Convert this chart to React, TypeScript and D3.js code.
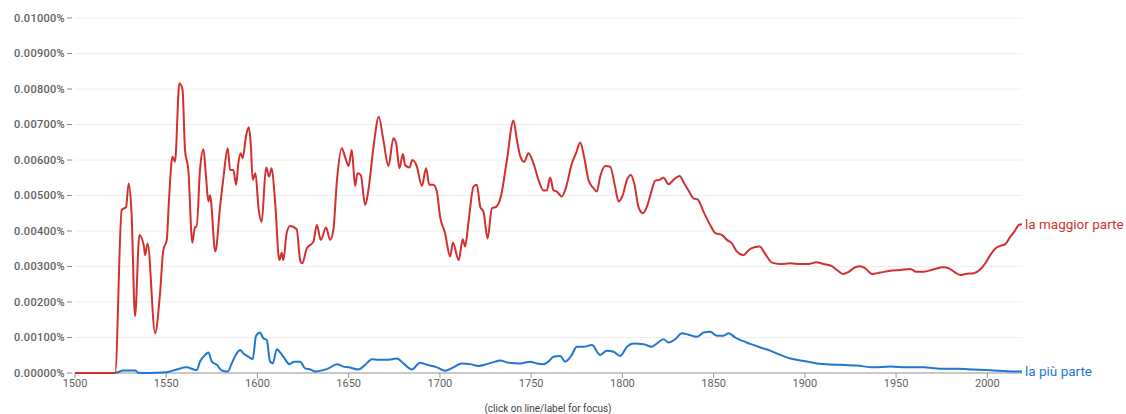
import React, { useEffect, useRef } from 'react';
import * as d3 from 'd3';

// values are in units of 0.001 %
const maggiorParte: [number, number][] = [
  [1500, 0], [1522, 0], [1525.6, 4.59], [1528, 4.68], [1529.4, 5.34], [1531, 4.5], [1532.9, 1.6],
  [1535.3, 3.89], [1537.8, 3.56], [1538.4, 3.32], [1539.8, 3.65], [1543.9, 1.12], [1546.6, 2.24],
  [1548.4, 3.46], [1550.3, 3.75], [1551.5, 4.87], [1553.4, 6.09], [1554.8, 5.95], [1557.2, 8.16],
  [1558.9, 7.99], [1560.3, 6.28], [1562.1, 5.72], [1564.3, 3.67], [1565.8, 4.12], [1566.7, 4.12],
  [1568.5, 5.72], [1570.4, 6.3], [1571.8, 5.53], [1573.1, 4.83], [1574, 5.01], [1576.9, 3.42],
  [1579.5, 4.68], [1581.3, 5.48], [1583.7, 6.33], [1585, 5.72], [1586.8, 5.72], [1588.3, 5.3],
  [1589.5, 5.9], [1590.8, 6.19], [1591.9, 6.05], [1593.7, 6.66], [1595.2, 6.92], [1596.3, 6.47],
  [1597.4, 5.44], [1598.9, 5.63], [1600.5, 4.68], [1602.3, 4.26], [1604.7, 5.79], [1606.4, 5.53],
  [1607.8, 5.77], [1609.6, 4.87], [1612, 3.18], [1613.3, 3.39], [1614.2, 3.18], [1616, 3.94],
  [1617.9, 4.14], [1621.5, 4.05], [1623.4, 3.18], [1624.6, 3.09], [1627, 3.51], [1630.7, 3.7],
  [1632.5, 4.17], [1634.7, 3.75], [1637.6, 4.1], [1639.8, 3.75], [1641.6, 4.03], [1643.5, 5.39],
  [1646.2, 6.33], [1648, 6.09], [1649.9, 5.83], [1651.7, 6.28], [1653.5, 5.27], [1654.8, 5.63],
  [1656.6, 5.58], [1659, 4.73], [1660.8, 5.15], [1663.6, 6.37], [1666.5, 7.22], [1669, 6.56],
  [1671.8, 5.83], [1674.5, 6.61], [1676, 6.47], [1677.8, 5.77], [1679.7, 6.17], [1680.9, 5.86],
  [1683.3, 5.79], [1684.9, 6.0], [1687.3, 5.83], [1690.1, 5.27], [1692.4, 5.77], [1694.2, 5.3],
  [1696.4, 5.3], [1698.3, 5.11], [1700.1, 4.4], [1702.8, 3.94], [1705.6, 3.28], [1707.1, 3.67],
  [1710.3, 3.18], [1712.5, 3.77], [1713.8, 3.56], [1715.6, 4.22], [1718.4, 5.25], [1720.2, 5.3],
  [1722.1, 4.68], [1723.9, 4.54], [1726.1, 3.79], [1728.5, 4.64], [1730.8, 4.68], [1733.4, 4.97],
  [1736.7, 6.0], [1740.3, 7.11], [1742.2, 6.56], [1744, 6.11], [1746.2, 5.95], [1748.5, 6.19],
  [1751.3, 5.9], [1754, 5.44], [1756.8, 5.14], [1758.6, 5.15], [1760.4, 5.51], [1762.2, 5.15],
  [1764.1, 5.11], [1766.8, 4.97], [1769.2, 5.25], [1772.3, 5.9], [1774.7, 6.21], [1776.9, 6.49],
  [1779, 6.09], [1781.4, 5.44], [1784.2, 5.2], [1786, 5.11], [1787.8, 5.53], [1790.6, 5.83],
  [1793.3, 5.81], [1796, 5.25], [1797.9, 4.83], [1800.2, 5.01], [1802.5, 5.44], [1804.6, 5.58],
  [1806.5, 5.34], [1808.8, 4.68], [1811.2, 4.5], [1813.4, 4.68], [1815.6, 5.06], [1818, 5.42],
  [1820.3, 5.44], [1822.5, 5.5], [1825.3, 5.32], [1828, 5.44], [1831.3, 5.55], [1833.9, 5.34],
  [1836.2, 5.14], [1839, 4.92], [1841.2, 4.89], [1844.5, 4.54], [1848.1, 4.17], [1850.9, 3.94],
  [1854.5, 3.89], [1857.3, 3.75], [1860, 3.65], [1862.8, 3.42], [1866.4, 3.32], [1869.1, 3.46],
  [1872.3, 3.54], [1875.2, 3.56], [1878.3, 3.35], [1882, 3.11], [1886.5, 3.07], [1892, 3.09],
  [1897.5, 3.07], [1902, 3.07], [1906.3, 3.12], [1910.2, 3.07], [1914.8, 3.01], [1917.6, 2.9],
  [1920.9, 2.79], [1924, 2.85], [1927.6, 2.98], [1930.4, 3.01], [1933.1, 2.95], [1936.8, 2.79],
  [1941.3, 2.83], [1946.8, 2.88], [1952.3, 2.9], [1957.8, 2.93], [1961.1, 2.85], [1965.1, 2.85],
  [1970.6, 2.92], [1976, 2.98], [1978.8, 2.95], [1982.5, 2.83], [1985.2, 2.76], [1988, 2.79],
  [1992.5, 2.81], [1996.2, 2.92], [1998.9, 3.09], [2001.6, 3.32], [2004.4, 3.51], [2007.1, 3.58],
  [2009.9, 3.63], [2012.6, 3.84], [2014.8, 3.98], [2017.2, 4.17], [2019, 4.19],
];

const piuParte: [number, number][] = [
  [1500, 0], [1522, 0], [1526.5, 0.07], [1533, 0.07], [1534.7, 0.01], [1540, 0], [1550, 0.02],
  [1555.7, 0.1], [1561, 0.16], [1566.7, 0.08], [1568.5, 0.32], [1571.3, 0.51], [1573.1, 0.58],
  [1575, 0.32], [1577.7, 0.23], [1580.4, 0.07], [1583.7, 0.04], [1585.9, 0.27], [1588.6, 0.55],
  [1590.5, 0.65], [1592.3, 0.55], [1595, 0.46], [1597.4, 0.39], [1599.2, 1.04], [1601.4, 1.14],
  [1603.2, 0.98], [1605.1, 0.93], [1606.9, 0.32], [1608.4, 0.27], [1610.6, 0.67], [1612.4, 0.58],
  [1614.2, 0.46], [1617.5, 0.25], [1620.1, 0.32], [1623.4, 0.32], [1626.1, 0.13], [1629, 0.1],
  [1631.6, 0.04], [1636.1, 0.08], [1638.9, 0.13], [1643.5, 0.25], [1647.1, 0.18], [1649.9, 0.16],
  [1655.3, 0.1], [1659, 0.23], [1662.7, 0.39], [1666.3, 0.37], [1670.9, 0.37], [1676.4, 0.41],
  [1680, 0.27], [1684.6, 0.1], [1689.1, 0.29], [1692.8, 0.23], [1698.3, 0.16], [1702.8, 0.06],
  [1707.4, 0.16], [1712, 0.27], [1716.6, 0.25], [1721.1, 0.2], [1725.7, 0.25], [1730.3, 0.32],
  [1733, 0.35], [1737.6, 0.29], [1744, 0.27], [1749.5, 0.32], [1753.1, 0.27], [1756.8, 0.25],
  [1759.5, 0.32], [1762.2, 0.46], [1765.9, 0.48], [1768.6, 0.32], [1772.3, 0.51], [1775, 0.74],
  [1778.7, 0.74], [1783.3, 0.79], [1787.8, 0.51], [1791.5, 0.63], [1795.1, 0.6], [1798.8, 0.48],
  [1802.5, 0.74], [1806.1, 0.83], [1811.6, 0.81], [1816.2, 0.74], [1818.9, 0.83], [1822.5, 0.95],
  [1825.3, 0.86], [1828.9, 0.95], [1832.6, 1.12], [1836.2, 1.08], [1840.8, 1.02], [1844.5, 1.14],
  [1848.1, 1.16], [1851.8, 1.05], [1855.4, 1.05], [1858.2, 1.12], [1861.8, 1.0], [1865.5, 0.91],
  [1870.1, 0.82], [1875.6, 0.72], [1881, 0.63], [1886.5, 0.51], [1892, 0.41], [1899.3, 0.34],
  [1906.6, 0.27], [1913.9, 0.24], [1919.4, 0.23], [1928.5, 0.21], [1937.7, 0.16], [1946.8, 0.18],
  [1956, 0.16], [1965.1, 0.16], [1974.2, 0.12], [1983.4, 0.12], [1992.5, 0.1], [2001.6, 0.08],
  [2010.8, 0.05], [2019, 0.04],
];

const yTicks = [0, 1, 2, 3, 4, 5, 6, 7, 8, 9, 10];
const xTicks = [1500, 1550, 1600, 1650, 1700, 1750, 1800, 1850, 1900, 1950, 2000];

const series = [
  { name: 'la più parte', data: piuParte, color: '#1f77d0' },
  { name: 'la maggior parte', data: maggiorParte, color: '#d32f2f' },
];

const W = 1126;
const H = 414;
const margin = { left: 75, right: 104, top: 18, bottom: 41 };

export default function App() {
  const ref = useRef<SVGSVGElement>(null);

  useEffect(() => {
    document.body.style.margin = '0';
    if (!ref.current) return;
    const svg = d3.select(ref.current);
    svg.selectAll('*').remove();

    const x = d3.scaleLinear().domain([1500, 2019]).range([margin.left, W - margin.right]);
    const y = d3.scaleLinear().domain([0, 10]).range([H - margin.bottom, margin.top]);
    const font = 'Roboto, "Noto Sans", sans-serif';

    // grid + y labels
    const gy = svg.append('g');
    gy.selectAll('line.grid')
      .data(yTicks)
      .enter()
      .append('line')
      .attr('x1', margin.left)
      .attr('x2', W - margin.right)
      .attr('y1', d => y(d))
      .attr('y2', d => y(d))
      .attr('stroke', '#eeeeee');
    gy.selectAll('line.tick')
      .data(yTicks)
      .enter()
      .append('line')
      .attr('x1', margin.left - 8)
      .attr('x2', margin.left - 3)
      .attr('y1', d => y(d))
      .attr('y2', d => y(d))
      .attr('stroke', '#888');
    gy.selectAll('text')
      .data(yTicks)
      .enter()
      .append('text')
      .attr('x', margin.left - 10)
      .attr('y', d => y(d))
      .attr('dy', '0.35em')
      .attr('text-anchor', 'end')
      .style('font', `500 11px ${font}`)
      .style('letter-spacing', '0.3px')
      .attr('fill', '#606060')
      .text(d => (d / 1000).toFixed(5) + '%');

    // x axis
    const base = y(0);
    svg.append('line')
      .attr('x1', margin.left).attr('x2', W - margin.right)
      .attr('y1', base).attr('y2', base)
      .attr('stroke', '#999');
    const gx = svg.append('g');
    gx.selectAll('line')
      .data(xTicks)
      .enter()
      .append('line')
      .attr('x1', d => x(d)).attr('x2', d => x(d))
      .attr('y1', base).attr('y2', base + 5)
      .attr('stroke', '#999');
    gx.selectAll('text')
      .data(xTicks)
      .enter()
      .append('text')
      .attr('x', d => x(d))
      .attr('y', base + 14)
      .attr('text-anchor', 'middle')
      .style('font', `11px ${font}`)
      .attr('fill', '#5f5f5f')
      .text(d => String(d));

    svg.append('text')
      .attr('x', 548).attr('y', 412)
      .attr('text-anchor', 'middle')
      .style('font', `10px ${font}`)
      .attr('fill', '#444')
      .text('(click on line/label for focus)');

    const line = d3.line<[number, number]>()
      .x(d => x(d[0]))
      .y(d => y(d[1]))
      .curve(d3.curveMonotoneX);

    series.forEach(s => {
      svg.append('path')
        .datum(s.data)
        .attr('d', line)
        .attr('fill', 'none')
        .attr('stroke', s.color)
        .attr('stroke-width', 2)
        .attr('stroke-linejoin', 'round');
      const last = s.data[s.data.length - 1];
      svg.append('text')
        .attr('x', x(last[0]) + 3)
        .attr('y', y(last[1]))
        .attr('dy', '0.35em')
        .style('font', `13.5px ${font}`)
        .attr('fill', s.color)
        .text(s.name);
    });
  }, []);

  return <svg ref={ref} width={W} height={H} style={{ display: 'block' }} />;
}
